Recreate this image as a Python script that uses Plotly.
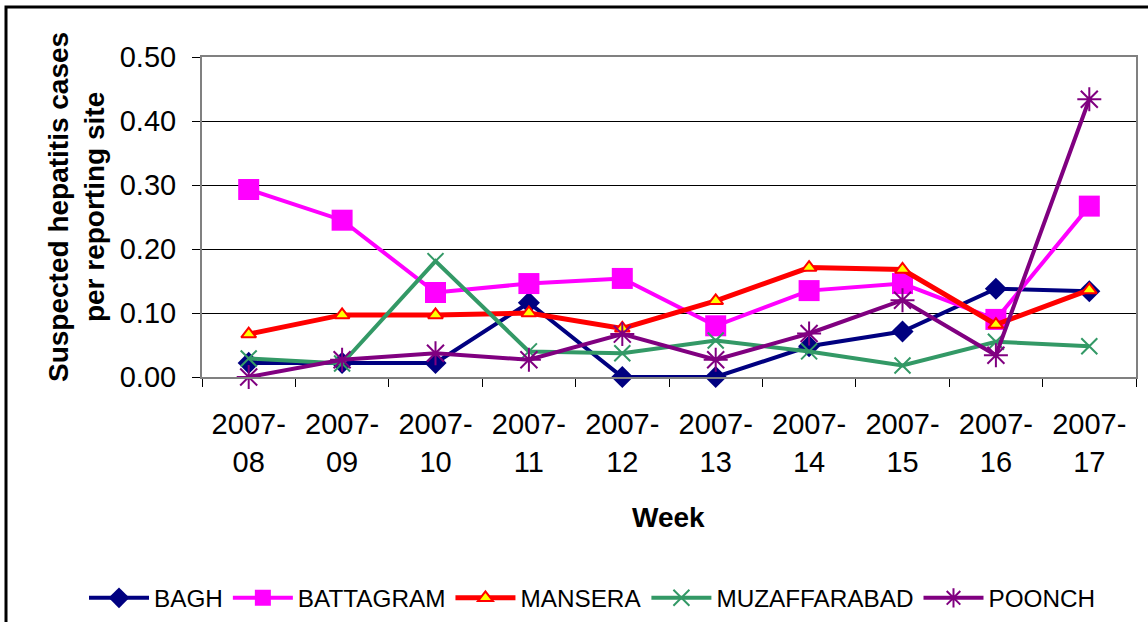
import plotly.graph_objects as go

weeks = ["2007-<br>08", "2007-<br>09", "2007-<br>10", "2007-<br>11", "2007-<br>12",
         "2007-<br>13", "2007-<br>14", "2007-<br>15", "2007-<br>16", "2007-<br>17"]
bagh = [0.022, 0.022, 0.022, 0.116, 0.0, 0.0, 0.048, 0.071, 0.138, 0.134]
battagram = [0.293, 0.245, 0.132, 0.146, 0.154, 0.080, 0.135, 0.146, 0.090, 0.267]
mansera = [0.067, 0.097, 0.097, 0.100, 0.076, 0.119, 0.171, 0.168, 0.082, 0.136]
muzaffarabad = [0.029, 0.021, 0.181, 0.040, 0.037, 0.057, 0.040, 0.018, 0.055, 0.048]
poonch = [0.0, 0.027, 0.037, 0.027, 0.067, 0.027, 0.068, 0.120, 0.034, 0.434]

FONT = "Liberation Sans, Arial, sans-serif"
W, H = 1148, 622
L, R, T, B = 202, 12, 57, 245
pw, ph = W - L - R, H - T - B


def px_x(p):
    return (p - L) / pw


def px_y(p):
    return (H - B - p) / ph


fig = go.Figure()
fig.add_trace(go.Scatter(x=weeks, y=bagh, name="BAGH", mode="lines+markers",
                         line=dict(color="#000080", width=4),
                         marker=dict(symbol="diamond", size=17, color="#000080"),
                         cliponaxis=False))
fig.add_trace(go.Scatter(x=weeks, y=battagram, name="BATTAGRAM", mode="lines+markers",
                         line=dict(color="#FF00FF", width=4),
                         marker=dict(symbol="square", size=21, color="#FF00FF"),
                         cliponaxis=False))
fig.add_trace(go.Scatter(x=weeks, y=mansera, name="MANSERA", mode="lines+markers",
                         line=dict(color="#FF0000", width=5),
                         marker=dict(symbol="triangle-up", size=13, color="#FFFF00",
                                     line=dict(color="#FF0000", width=2)),
                         cliponaxis=False))
fig.add_trace(go.Scatter(x=weeks, y=muzaffarabad, name="MUZAFFARABAD", mode="lines+markers",
                         line=dict(color="#339966", width=4),
                         marker=dict(symbol="x-thin", size=16,
                                     line=dict(color="#339966", width=2)),
                         cliponaxis=False))
fig.add_trace(go.Scatter(x=weeks, y=poonch, name="POONCH", mode="lines+markers",
                         line=dict(color="#800080", width=4),
                         marker=dict(symbol="asterisk-open", size=20,
                                     line=dict(color="#800080", width=2)),
                         cliponaxis=False))

fig.update_layout(
    width=W, height=H,
    margin=dict(l=L, r=R, t=T, b=B, autoexpand=False),
    paper_bgcolor="white", plot_bgcolor="white",
    font=dict(family=FONT, color="black"),
    showlegend=True,
    legend=dict(orientation="h", x=px_x(84), y=px_y(598), xanchor="left", yanchor="middle",
                font=dict(family=FONT, size=24.3, color="black"),
                itemwidth=60, tracegroupgap=0, bgcolor="rgba(0,0,0,0)"),
    xaxis=dict(type="category", range=[-0.5, len(weeks) - 0.5],
               tickson="boundaries", ticks="outside", ticklen=8,
               tickcolor="black", tickwidth=1,
               showline=True, linecolor="#808080", linewidth=2, mirror=True,
               showgrid=False, tickfont=dict(family=FONT, size=29, color="black"),
               ticklabelstandoff=20),
    yaxis=dict(range=[0, 0.5], dtick=0.1, tickformat=".2f", ticks="outside", ticklen=8,
               tickcolor="black", tickwidth=1,
               showline=True, linecolor="#808080", linewidth=2, mirror=True,
               showgrid=True, gridcolor="black", gridwidth=1, zeroline=False,
               tickfont=dict(family=FONT, size=29, color="black"),
               ticklabelstandoff=10),
)

fig.add_annotation(text="<b>Suspected hepatitis cases<br>per reporting site</b>",
                   xref="paper", yref="paper", x=px_x(76), y=px_y(207),
                   xanchor="center", yanchor="middle", textangle=-90, showarrow=False,
                   font=dict(family=FONT, size=28, color="black"))
fig.add_annotation(text="<b>Week</b>", xref="paper", yref="paper", x=px_x(668), y=px_y(517),
                   xanchor="center", yanchor="middle", showarrow=False,
                   font=dict(family=FONT, size=28, color="black"))

fig.add_shape(type="rect", xref="paper", yref="paper",
              x0=px_x(6), x1=px_x(1165), y0=px_y(640), y1=px_y(7),
              line=dict(color="black", width=3), fillcolor="rgba(0,0,0,0)", layer="below")

fig.write_html("out.html", config={"displayModeBar": False},
               post_script="document.body.style.margin='0';")
